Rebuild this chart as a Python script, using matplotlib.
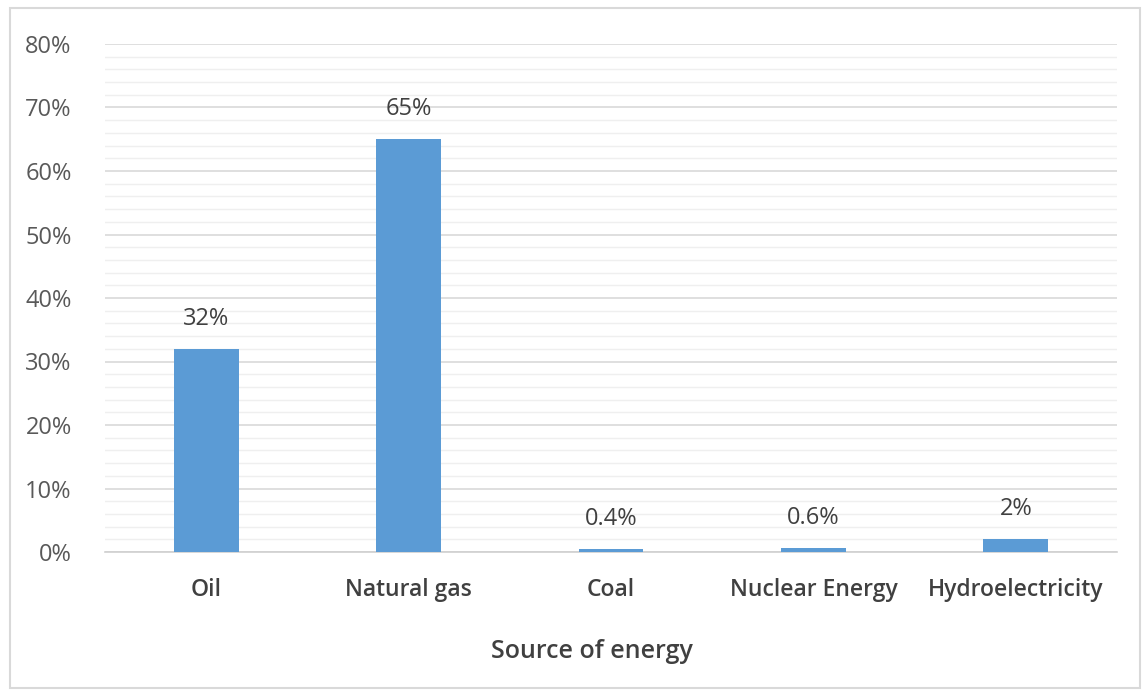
import matplotlib
matplotlib.use("Agg")
import matplotlib.pyplot as plt
from matplotlib.patches import Rectangle
from matplotlib.ticker import MultipleLocator, FuncFormatter

categories = ["Oil", "Natural gas", "Coal", "Nuclear Energy", "Hydroelectricity"]
values = [32, 65, 0.4, 0.6, 2]
value_labels = ["32%", "65%", "0.4%", "0.6%", "2%"]
yticks = [0, 10, 20, 30, 40, 50, 60, 70, 80]

plt.rcParams['font.family'] = ['Open Sans', 'DejaVu Sans']

FS = 16
W = "semibold"
fig = plt.figure(figsize=(11.43, 6.9), dpi=100)
ax = fig.add_axes([105/1143, 1-552/690, (1117-105)/1143, (552-44)/690])

x = list(range(len(categories)))
bars = ax.bar(x, values, width=0.32, color="#5b9bd5", zorder=3)

for xi, v, lab in zip(x, values, value_labels):
    ax.annotate(lab, (xi, v), xytext=(0, 13), textcoords="offset points",
                ha="center", va="bottom", fontsize=17, color="#404040")

ax.set_xlim(-0.5, len(categories) - 0.5)
ax.set_ylim(0, 80)
ax.set_yticks(yticks)
ax.yaxis.set_major_formatter(FuncFormatter(lambda v, p: f"{int(v)}%"))
ax.yaxis.set_minor_locator(MultipleLocator(2))
ax.set_xticks(x)
ax.set_xticklabels(categories, fontsize=16.5, color="#404040", fontweight=W)
ax.tick_params(axis="x", length=0, pad=19)
ax.tick_params(axis="y", which="both", length=0, pad=24, labelsize=17, labelcolor="#595959")

ax.grid(axis="y", which="major", color="#d9d9d9", linewidth=1.2, zorder=0)
ax.grid(axis="y", which="minor", color="#efefef", linewidth=1.0, zorder=0)
for s in ["top", "right", "left"]:
    ax.spines[s].set_visible(False)
ax.spines["bottom"].set_color("#d0d0d0")
ax.spines["bottom"].set_linewidth(1.2)

ax.set_xlabel("Source of energy", fontsize=18, color="#404040", fontweight=W)
ax.xaxis.set_label_coords((592-105)/1012, -(639-552)/508)

fig.patches.append(Rectangle((10/1143, 1-688/690), (1140-10)/1143, (688-8)/690,
                             transform=fig.transFigure, fill=False,
                             edgecolor="#d9d9d9", linewidth=1.5))

fig.savefig("out.png", dpi=100, facecolor="white")
